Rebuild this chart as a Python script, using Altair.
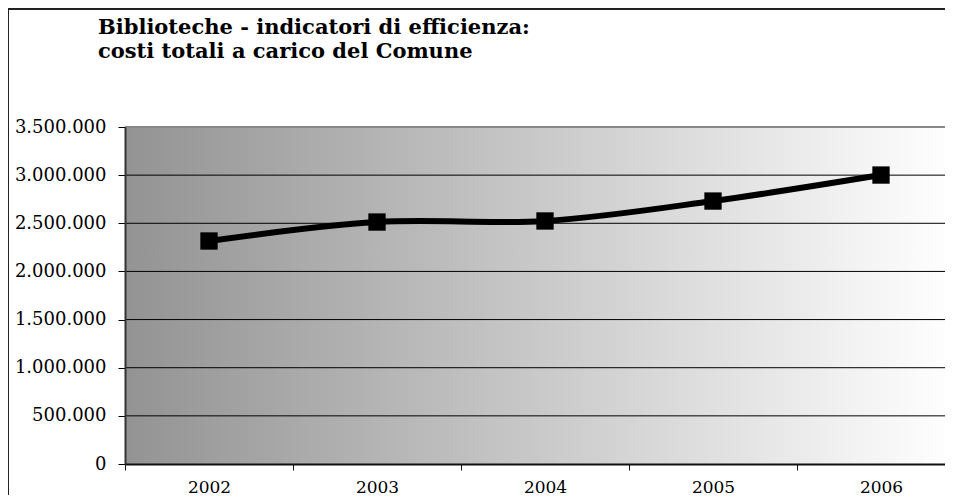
import altair as alt
import pandas as pd

years = ["2002", "2003", "2004", "2005", "2006"]
costs = [2316000, 2513000, 2524000, 2731000, 3001000]
y_ticks = [0, 500000, 1000000, 1500000, 2000000, 2500000, 3000000, 3500000]
title_lines = ["Biblioteche - indicatori di efficienza:", "costi totali a carico del Comune"]

df = pd.DataFrame({"anno": years, "costo": costs})
grid_df = pd.DataFrame({"costo": y_ticks[1:]})

W, H = 820, 337
FONT = "DejaVu Serif"

x_enc = alt.X(
    "anno:N", sort=years,
    scale=alt.Scale(type="band", range=[0, 840], paddingInner=0, paddingOuter=0),
    axis=alt.Axis(title=None, labelAngle=0, tickBand="extent", grid=False, zindex=1,
                  domainColor="#111", domainWidth=2, tickColor="#111", tickSize=6,
                  labelFont=FONT, labelFontSize=17, labelColor="black", labelPadding=9),
)
y_scale = alt.Scale(domain=[0, 3500000], nice=False, zero=True)
y_axis = alt.Axis(title=None, values=y_ticks, zindex=1,
                  labelExpr="replace(replace(format(datum.value, ','), ',', '.'), ',', '.')",
                  grid=False,
                  domainColor="#333", domainWidth=2, tickColor="black", tickSize=7,
                  labelFont=FONT, labelFontSize=18, labelColor="black", labelPadding=12)
y_enc = alt.Y("costo:Q", scale=y_scale, axis=y_axis)

base = alt.Chart(df)

bg = alt.Chart(alt.Data(values=[{"k": 1}])).mark_rect(
    fill=alt.LinearGradient(gradient="linear", x1=0, x2=1, y1=0, y2=0,
                            stops=[alt.GradientStop(color="#939393", offset=0),
                                   alt.GradientStop(color="#fefefe", offset=1)]),
    strokeWidth=0,
).encode(x=alt.value(0), x2=alt.value(W), y=alt.value(0), y2=alt.value(H))

grid = alt.Chart(grid_df).mark_rule().encode(
    y=alt.Y("costo:Q", scale=y_scale, axis=y_axis),
    x=alt.value(0), x2=alt.value(W),
    color=alt.condition("datum.costo === 3500000", alt.value("#888888"), alt.value("black")),
    strokeWidth=alt.condition("datum.costo === 3500000", alt.value(2), alt.value(1)),
)

line = base.mark_line(color="black", strokeWidth=6, interpolate="cardinal", tension=0).encode(x=x_enc, y=y_enc)
pts = base.mark_point(shape="square", filled=True, color="black", size=300, opacity=1).encode(x=x_enc, y=y_enc)

frame_data = alt.Data(values=[{"k": 1}])
border_left = alt.Chart(frame_data).mark_rule(color="#222", strokeWidth=2).encode(
    x=alt.value(-117), y=alt.value(-119), y2=alt.value(H + 60))
border_top = alt.Chart(frame_data).mark_rule(color="#222", strokeWidth=2).encode(
    x=alt.value(-118), x2=alt.value(W + 30), y=alt.value(-118))

title_marks = [
    alt.Chart(alt.Data(values=[{"t": txt}])).mark_text(
        font=FONT, fontSize=21, fontWeight="bold", color="black", align="left", baseline="alphabetic"
    ).encode(text="t:N", x=alt.value(-27), y=alt.value(yy))
    for txt, yy in zip(title_lines, [-93, -69])
]

chart = alt.layer(border_left, border_top, bg, grid, line, pts, *title_marks).properties(
    width=W, height=H,
    autosize=alt.AutoSizeParams(type="none"),
    padding={"left": 117, "top": 119, "right": 0, "bottom": 31},
).configure_view(stroke=None)

chart.save("out.html", embed_options={"renderer": "svg", "actions": False})
